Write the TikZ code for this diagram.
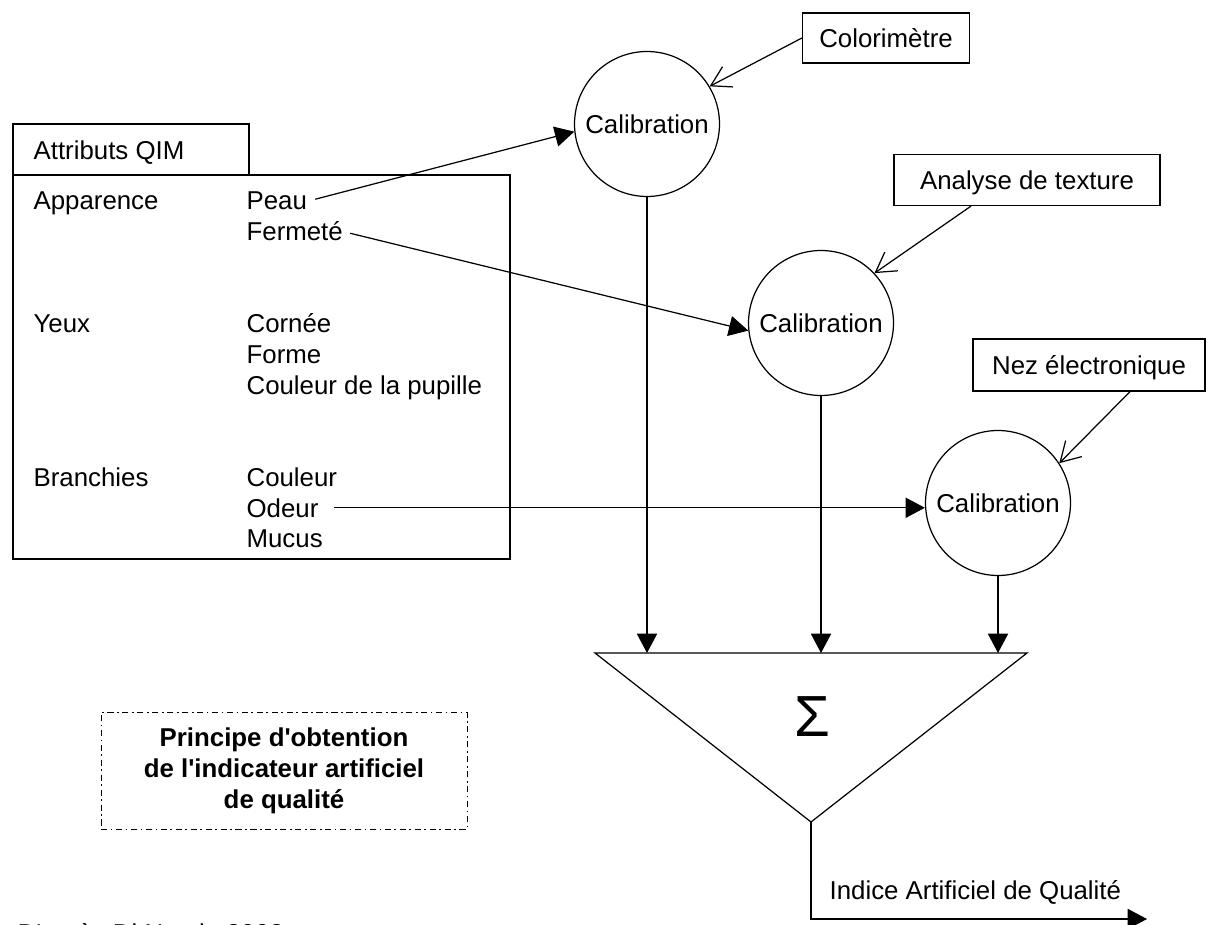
\documentclass[tikz,border=0pt]{standalone}
\usepackage{fontspec}
\setmainfont{Liberation Sans}[Ligatures=TeXOff]
\usetikzlibrary{arrows.meta,calc}

\begin{document}
\begin{tikzpicture}[x=.02cm, y=-.02cm, line width=.7pt,
  font=\fontsize{14.7pt}{17.6pt}\selectfont,
  txt/.style={inner sep=0pt, anchor=base west},
  instr/.style={draw, inner sep=0pt, text height=10.5pt, text depth=0pt},
  calib/.style={draw, circle, minimum size=2.9cm, inner sep=0pt, text height=10.5pt, text depth=0pt},
  plein/.style={-{Triangle[length=11pt,width=11.5pt]}},
  ouvert/.style={-{Straight Barb[length=11pt,width=13pt]}}]
\useasboundingbox (0,0) rectangle (1209,925);
% cadre des attributs
\draw (13,124) rectangle (249,175);
\draw (13,175) rectangle (510,559);
\node[txt] (qim) at (33,160) {Attributs QIM};
\node[txt] (app) at (33,210) {Apparence};
\node[txt] (peau) at (246,210) {Peau};
\node[txt] (ferm) at (246,241) {Fermeté};
\node[txt] (yeux) at (33,333) {Yeux};
\node[txt] (corn) at (246,333) {Cornée};
\node[txt] (forme) at (246,364) {Forme};
\node[txt] (pup) at (246,395) {Couleur de la pupille};
\node[txt] (branch) at (33,486) {Branchies};
\node[txt] (coul) at (246,486) {Couleur};
\node[txt] (odeur) at (246,517) {Odeur};
\node[txt] (mucus) at (246,547) {Mucus};
% calibrations
\node[calib] (cal1) at (647,124) {Calibration};
\node[calib] (cal2) at (821,323) {Calibration};
\node[calib] (cal3) at (998,503) {Calibration};
% instruments
\node[instr, minimum width=3.34cm, minimum height=1cm] (colo) at (886,38) {Colorimètre};
\node[instr, minimum width=5.32cm, minimum height=1.02cm] (anal) at (1027,180) {Analyse de texture};
\node[instr, minimum width=4.64cm, minimum height=1.04cm] (nez) at (1089,365) {Nez électronique};
\draw[ouvert] (colo.west) -- (cal1.31);
\draw[ouvert] ($(anal.south)+(-56,0)$) -- (cal2.43);
\draw[ouvert] ($(nez.south)+(41,0)$) -- (cal3.33);
\draw[plein, shorten <=4.5pt] (peau.east) -- (cal1.186);
\draw[plein, shorten <=4pt] (ferm.east) -- (cal2.186);
\draw[plein, shorten <=8.5pt] (odeur.east) -- (odeur.east -| cal3.west);
% somme
\coordinate (tg) at (595,653);
\coordinate (td) at (1027,653);
\coordinate (tb) at (811,822);
\draw (tg) -- (td) -- (tb) -- cycle;
\node[font=\fontsize{33pt}{36pt}\selectfont] (somme) at (812,717) {Σ};
\draw[plein] (cal1) -- (cal1 |- tg);
\draw[plein] (cal2) -- (cal2 |- tg);
\draw[plein] (cal3) -- (cal3 |- tg);
\coordinate (sortie) at (1147,919);
\draw[plein] (tb) |- (sortie);
\node[txt] (iaq) at (829,899) {Indice Artificiel de Qualité};
% titre
\node[draw, line width=.5pt, dash pattern=on 3.5pt off 2pt on 1pt off 2pt,
  minimum width=7.32cm, minimum height=2.34cm, align=center,
  font=\bfseries\fontsize{14.7pt}{17.8pt}\selectfont] (titre) at (284,771)
  {Principe d'obtention\\de l'indicateur artificiel\\de qualité};
\node[txt] (source) at (17,942) {D'après Di Natale 2002};
\end{tikzpicture}
\end{document}
